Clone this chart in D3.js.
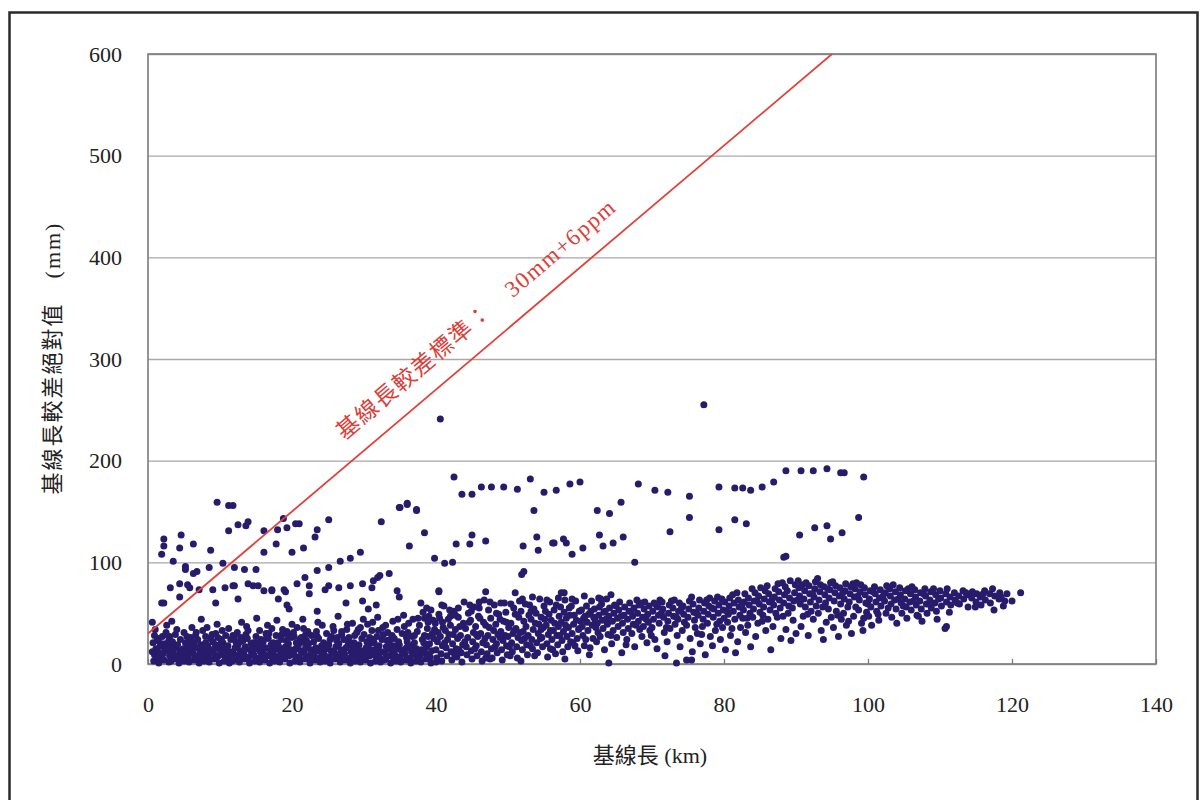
<!DOCTYPE html>
<html>
<head>
<meta charset="utf-8">
<script src="https://cdn.jsdelivr.net/npm/d3@7"></script>
<style>
  body { margin: 0; background: #fff; }
  text { font-family: "Liberation Serif", "Times New Roman", "Noto Sans CJK TC", serif; fill: #222; }
</style>
</head>
<body>
<div id="graph"></div>
<script>
//Sets the dimensions of the picture and the plot area.
let w = 1200;
let h = 800;
let plotLeft = 148, plotRight = 1156, plotTop = 54, plotBottom = 664;

//Axis ticks.
const xTicks = [0, 20, 40, 60, 80, 100, 120, 140];
const yTicks = [0, 100, 200, 300, 400, 500, 600];

//Criterion line: 30mm + 6ppm, drawn from 0 km until it leaves the chart.
const limitBase = 30;
const limitPpm = 6;
const limitX = [0, 95];

//Points [baseline km, |difference| mm] in 10 km strips.
const strip0 = [[0.8,3],[0.9,9],[1.1,15],[0.7,21],[1.0,34],[1.5,1],[1.6,6],[1.4,12],[1.7,18],[1.5,25],
  [2.2,4],[2.1,10],[2.3,14],[2.4,20],[2.0,27],[2.6,38],[2.9,2],[3.0,8],[2.8,13],[3.1,17],[2.9,23],
  [3.6,5],[3.5,11],[3.7,16],[3.4,22],[3.8,29],[3.3,42],[4.3,1],[4.2,7],[4.4,13],[4.1,19],[4.5,24],
  [5.0,3],[5.1,9],[4.9,15],[5.2,21],[5.0,31],[5.7,2],[5.6,6],[5.8,12],[5.5,18],[5.9,26],[6.1,36],
  [6.4,4],[6.3,10],[6.5,16],[6.2,22],[6.6,28],[7.1,1],[7.0,8],[7.2,13],[7.3,19],[6.9,24],[7.4,44],
  [7.8,3],[7.7,9],[7.9,15],[8.0,21],[7.6,33],[8.5,2],[8.4,7],[8.6,12],[8.3,18],[8.7,25],
  [9.2,5],[9.1,11],[9.3,16],[9.0,22],[9.4,30],[9.6,39],[9.9,1],[9.8,8],[10.0,14],[10.1,20],[9.7,26]];
const strip10 = [[10.6,3],[10.5,9],[10.7,15],[10.4,21],[10.8,28],[11.3,1],[11.2,6],[11.4,12],[11.1,18],[11.5,24],[11.2,35],
  [12.0,4],[11.9,10],[12.1,16],[12.2,22],[12.4,31],[12.7,2],[12.6,8],[12.8,13],[12.5,19],[12.9,26],[13.0,41],
  [13.4,5],[13.3,11],[13.5,17],[13.2,23],[13.6,29],[14.1,1],[14.0,7],[14.2,14],[14.3,20],[13.9,33],
  [14.8,3],[14.7,9],[14.9,15],[14.6,21],[15.0,27],[15.1,45],[15.5,2],[15.4,6],[15.6,12],[15.3,18],[15.7,24],
  [16.2,4],[16.1,10],[16.3,16],[16.0,22],[16.4,30],[16.6,38],[16.9,1],[16.8,8],[17.0,13],[17.1,19],[16.7,25],
  [17.6,3],[17.5,9],[17.7,15],[17.4,21],[17.8,28],[17.9,43],[18.3,2],[18.2,7],[18.4,12],[18.1,18],[18.5,24],[18.7,34],
  [19.0,5],[18.9,11],[19.1,17],[19.2,23],[19.4,29],[19.7,1],[19.6,8],[19.8,14],[19.5,20],[19.9,26],[20.0,39]];
const strip20 = [[20.4,3],[20.3,9],[20.5,15],[20.6,21],[20.2,31],[21.1,2],[21.0,7],[21.2,13],[20.9,19],[21.3,26],[21.5,44],
  [21.8,5],[21.7,11],[21.9,17],[22.0,23],[21.6,35],[22.5,1],[22.4,8],[22.6,14],[22.3,20],[22.7,28],
  [23.2,4],[23.1,10],[23.3,16],[23.0,22],[23.4,32],[23.6,41],[23.9,2],[23.8,6],[24.0,12],[24.1,18],[23.7,25],
  [24.6,3],[24.5,9],[24.7,15],[24.4,21],[24.8,30],[25.3,1],[25.2,7],[25.4,13],[25.1,19],[25.5,27],[25.7,37],
  [26.0,5],[25.9,11],[26.1,17],[26.2,23],[26.4,47],[26.7,2],[26.6,8],[26.8,14],[26.5,20],[26.9,29],
  [27.4,4],[27.3,10],[27.5,16],[27.2,24],[27.6,34],[28.1,1],[28.0,6],[28.2,12],[28.3,18],[27.9,26],[28.4,40],
  [28.8,3],[28.7,9],[28.9,15],[28.6,21],[29.0,31],[29.5,2],[29.4,7],[29.6,13],[29.3,19],[29.7,25],[29.9,44]];
const strip30 = [[30.2,4],[30.1,10],[30.3,16],[30.4,22],[30.0,29],[30.5,39],[30.9,1],[30.8,8],[31.0,14],[30.7,20],[31.1,33],
  [31.6,3],[31.5,9],[31.7,15],[31.4,21],[31.8,27],[31.9,46],[32.3,2],[32.2,6],[32.4,12],[32.1,18],[32.5,24],[32.6,36],
  [33.0,5],[32.9,11],[33.1,17],[33.2,23],[33.3,31],[33.7,1],[33.6,8],[33.8,14],[33.5,20],[33.9,28],[34.0,42],
  [34.4,3],[34.3,9],[34.5,15],[34.2,25],[34.6,34],[35.1,2],[35.0,7],[35.2,13],[34.9,19],[35.3,30],[35.5,48],
  [35.8,4],[35.7,10],[35.9,16],[36.0,22],[35.6,37],[36.5,1],[36.4,6],[36.6,12],[36.3,18],[36.7,27],[36.8,44],
  [37.2,3],[37.1,9],[37.3,15],[37.0,21],[37.4,32],[37.9,2],[37.8,8],[38.0,14],[38.1,24],[37.7,38],[38.2,51],
  [38.6,5],[38.5,11],[38.7,17],[38.4,28],[38.8,35],[39.3,1],[39.2,7],[39.4,13],[39.1,20],[39.5,30],[39.6,43]];
const strip40 = [[40.1,6],[40.0,14],[40.2,22],[40.3,31],[39.9,40],[40.4,49],[40.8,3],[40.7,10],[40.9,18],[40.6,27],[41.0,36],[41.1,57],
  [41.5,8],[41.4,16],[41.6,24],[41.3,33],[41.7,44],[42.2,4],[42.1,12],[42.3,20],[42.4,29],[42.0,38],[42.5,52],
  [42.9,7],[42.8,15],[43.0,25],[42.7,34],[43.1,46],[43.6,2],[43.5,11],[43.7,19],[43.4,28],[43.8,40],[43.9,61],
  [44.3,9],[44.2,17],[44.4,26],[44.1,35],[44.5,50],[45.0,5],[44.9,13],[45.1,22],[45.2,31],[44.8,43],[45.3,56],
  [45.7,8],[45.6,18],[45.8,27],[45.5,37],[45.9,47],[46.4,3],[46.3,12],[46.5,21],[46.2,30],[46.6,41],[46.7,63],
  [47.1,10],[47.0,19],[47.2,28],[46.9,38],[47.3,53],[47.8,6],[47.7,15],[47.9,24],[48.0,33],[47.6,45],[48.1,58],
  [48.5,11],[48.4,20],[48.6,29],[48.3,39],[48.7,49],[49.2,4],[49.1,14],[49.3,23],[49.0,32],[49.4,42],[49.5,60],
  [49.9,9],[49.8,18],[50.0,27],[50.1,36],[49.7,51]];
const strip50 = [[50.6,12],[50.5,21],[50.7,30],[50.4,40],[50.8,55],[51.3,6],[51.2,17],[51.4,26],[51.1,35],[51.5,46],[51.6,62],
  [52.0,14],[51.9,23],[52.1,32],[52.2,42],[51.8,52],[52.7,9],[52.6,19],[52.8,28],[52.5,37],[52.9,48],[53.0,58],
  [53.4,15],[53.3,24],[53.5,34],[53.2,44],[53.6,54],[54.1,11],[54.0,21],[54.2,30],[54.3,39],[53.9,50],[54.4,64],
  [54.8,17],[54.7,26],[54.9,36],[54.6,46],[55.0,57],[55.5,7],[55.4,20],[55.6,29],[55.3,38],[55.7,49],[55.8,61],
  [56.2,14],[56.1,24],[56.3,33],[56.0,43],[56.4,53],[56.9,19],[56.8,28],[57.0,37],[57.1,47],[56.7,58],
  [57.6,12],[57.5,23],[57.7,32],[57.4,41],[57.8,51],[57.9,63],[58.3,17],[58.2,27],[58.4,36],[58.1,45],[58.5,55],
  [59.0,21],[58.9,30],[59.1,39],[59.2,48],[58.8,57],[59.7,13],[59.6,25],[59.8,34],[59.5,43],[59.9,52]];
const strip60 = [[60.4,28],[60.3,37],[60.5,45],[60.2,53],[60.6,18],[61.1,33],[61.0,41],[61.2,49],[60.9,57],[61.3,9],
  [61.8,25],[61.7,38],[61.9,46],[62.0,54],[61.6,62],[62.5,31],[62.4,40],[62.6,48],[62.3,22],[62.7,56],
  [63.2,35],[63.1,43],[63.3,51],[63.0,59],[63.4,14],[63.9,29],[63.8,39],[64.0,47],[64.1,55],[63.7,64],[64.0,1],
  [64.6,33],[64.5,42],[64.7,50],[64.4,20],[64.8,58],[65.3,37],[65.2,45],[65.4,53],[65.1,26],[65.5,61],
  [66.0,31],[65.9,40],[66.1,48],[66.2,56],[65.8,11],[66.7,35],[66.6,44],[66.8,52],[66.5,24],[66.9,60],
  [67.4,39],[67.3,47],[67.5,55],[67.2,30],[67.6,17],[68.1,42],[68.0,50],[68.2,58],[68.3,34],[67.9,63],
  [68.8,37],[68.7,46],[68.9,54],[68.6,27],[69.0,61],[69.5,41],[69.4,49],[69.6,57],[69.3,21],[69.7,33]];
const strip70 = [[70.2,44],[70.1,52],[70.3,60],[70.0,36],[70.4,24],[70.9,48],[70.8,56],[71.0,40],[71.1,63],[70.7,15],
  [71.6,46],[71.5,54],[71.7,31],[71.4,61],[71.8,8],[72.3,50],[72.2,42],[72.4,58],[72.1,22],[72.5,35],
  [73.0,47],[72.9,55],[73.1,63],[73.2,39],[73.4,1],[73.7,52],[73.6,44],[73.8,60],[73.5,28],[73.9,17],
  [74.4,49],[74.3,57],[74.5,41],[74.2,33],[74.8,4],[75.1,54],[75.0,46],[75.2,62],[75.5,4],[75.3,25],
  [75.8,51],[75.7,59],[75.9,43],[75.6,12],[76.0,36],[76.5,55],[76.4,48],[76.6,63],[76.3,30],[76.7,20],
  [77.2,52],[77.1,44],[77.3,60],[77.0,37],[77.4,9],[77.9,57],[77.8,49],[78.0,65],[78.1,27],[77.7,40],
  [78.6,54],[78.5,46],[78.7,62],[78.4,18],[78.8,33],[79.3,58],[79.2,50],[79.4,42],[79.1,66],[79.5,24],
  [79.9,53],[80.0,45],[80.1,61],[79.8,36],[80.2,14]];
const strip80 = [[80.7,57],[80.6,49],[80.8,65],[80.5,41],[80.9,28],[81.4,60],[81.3,52],[81.5,44],[81.2,68],[81.6,11],
  [82.1,56],[82.0,63],[82.2,48],[82.3,36],[81.9,22],[82.8,61],[82.7,53],[82.9,69],[82.6,45],[83.0,31],
  [83.5,58],[83.4,65],[83.6,50],[83.3,38],[83.7,17],[84.2,62],[84.1,54],[84.3,70],[84.0,46],[84.4,27],
  [84.9,59],[84.8,67],[85.0,51],[85.1,75],[84.7,40],[85.6,64],[85.5,56],[85.7,72],[85.4,48],[85.8,33],
  [86.3,61],[86.2,69],[86.4,53],[86.1,44],[86.5,14],[87.0,66],[86.9,58],[87.1,74],[87.2,50],[86.8,37],
  [87.7,63],[87.6,71],[87.8,55],[87.5,79],[87.9,25],[88.4,68],[88.3,60],[88.5,76],[88.2,47],[88.6,34],
  [89.1,65],[89.0,57],[89.2,82],[88.9,50],[89.3,23],[89.8,70],[89.7,62],[89.9,78],[89.6,43],[90.0,30]];
const strip90 = [[90.5,67],[90.4,75],[90.6,59],[90.3,82],[90.7,37],[91.2,72],[91.1,64],[91.3,56],[91.0,47],[91.4,80],
  [91.9,69],[91.8,77],[92.0,61],[92.1,52],[91.7,28],[92.6,74],[92.5,66],[92.7,81],[92.4,44],[92.8,57],
  [93.3,71],[93.2,63],[93.4,78],[93.1,50],[93.5,33],[94.0,68],[93.9,76],[94.1,60],[94.2,41],[93.8,24],
  [94.7,73],[94.6,65],[94.8,80],[94.5,54],[94.9,46],[95.4,70],[95.3,62],[95.5,77],[95.2,36],[95.6,52],
  [96.1,75],[96.0,67],[96.2,59],[96.3,44],[95.9,27],[96.8,72],[96.7,64],[96.9,79],[96.6,50],[97.0,38],
  [97.5,69],[97.4,61],[97.6,76],[97.3,42],[97.7,30],[98.2,74],[98.1,66],[98.3,56],[98.0,47],[98.4,80],
  [98.9,71],[98.8,63],[99.0,78],[98.7,53],[99.1,40],[99.6,68],[99.5,75],[99.7,60],[99.4,45],[99.8,51]];
const strip100 = [[100.3,72],[100.2,64],[100.4,56],[100.1,47],[100.5,38],[101.0,69],[100.9,76],[101.1,61],[101.2,52],
  [101.7,73],[101.6,65],[101.8,57],[101.5,43],[102.4,70],[102.3,62],[102.5,50],[102.6,77],
  [103.1,67],[103.0,74],[103.2,59],[103.3,46],[103.8,71],[103.7,63],[103.9,54],[104.0,40],
  [104.5,68],[104.4,75],[104.6,60],[104.7,50],[105.2,72],[105.1,64],[105.3,56],[105.4,45],
  [105.9,69],[105.8,61],[106.0,53],[106.1,76],[106.6,66],[106.5,73],[106.7,58],[106.8,48],
  [107.3,70],[107.2,62],[107.4,54],[107.5,42],[108.0,67],[107.9,74],[108.1,59],[108.2,50],
  [108.7,71],[108.6,63],[108.8,55],[109.4,68],[109.3,60],[109.5,52],[109.6,44]];
const strip110 = [[110.1,65],[110.0,72],[110.2,57],[110.7,35],[110.9,37],[110.8,69],[110.9,61],[111.4,66],[111.5,58],[111.3,51],
  [112.0,70],[112.1,63],[112.6,67],[112.7,59],[113.2,72],[113.3,64],[113.8,68],[113.9,56],
  [114.4,65],[114.5,71],[115.0,61],[115.1,69],[115.6,66],[115.7,58],[116.3,63],[116.2,72],
  [116.9,69],[117.0,60],[117.6,67],[117.5,53],[118.2,64],[118.3,70],[118.8,57],[119.0,62],[121.2,70]];

//Extra points filling the gaps of the dense band.
const fillNear = [[1.2,7],[2.6,16],[3.2,3],[4.7,10],[5.4,27],[6.0,14],[6.8,5],[7.5,17],[8.1,11],[8.9,29],[9.5,6],
  [10.2,24],[10.9,12],[11.7,3],[12.3,18],[13.1,8],[13.8,25],[14.4,11],[15.2,4],[15.9,16],[16.5,27],[17.3,6],
  [18.0,21],[18.8,10],[19.3,32],[20.1,13],[20.8,4],[21.4,22],[22.1,16],[22.9,9],[23.5,27],[24.3,5],[24.9,18],
  [25.6,11],[26.3,26],[27.0,7],[27.8,19],[28.5,13],[29.2,34],[29.8,5],[30.5,17],[31.3,24],[32.0,10],[32.7,29],
  [33.4,15],[34.1,6],[34.8,22],[35.4,11],[36.1,31],[36.9,16],[37.6,5],[38.3,21],[39.0,9],[39.7,25],
  [0.9,28],[2.5,31],[4.0,34],[5.3,12],[6.7,31],[8.2,36],[9.0,14],[10.3,33],[11.8,28],[13.7,37],[15.5,33],
  [17.2,35],[18.6,29],[20.7,36],[22.2,32],[24.2,38],[25.8,33],[27.7,39],[29.5,36],[31.2,41],[33.0,38],[34.7,44],
  [36.2,40],[37.5,45],[39.0,47]];
const fillLow = [[0.6,12],[1.9,20],[3.9,8],[5.6,22],[7.7,4],[9.4,19],[11.0,9],[12.8,22],[14.6,14],[16.0,5],[17.7,19],
  [19.4,11],[21.1,24],[22.7,6],[24.5,16],[26.2,9],[27.9,22],[29.0,12],[30.8,26],[32.8,4],[34.1,18],[35.9,26],
  [37.3,11],[38.9,27],[1.3,23],[3.0,27],[4.6,5],[6.4,19],[8.0,27],[10.6,17],[12.0,27],[13.4,14],[15.0,21],
  [16.8,30],[18.4,15],[20.3,27],[21.9,29],[23.7,13],[25.3,24],[26.9,32],[28.7,28],[30.3,12],[32.0,33],[33.6,24],
  [35.6,14],[37.0,28],[38.6,19],[39.8,34]];
const fillMid = [[38.4,45],[39.3,53],[40.0,2],[40.9,41],[41.8,29],[42.7,48],[43.2,14],[44.6,41],[45.6,29],[46.0,55],
  [46.9,6],[47.4,36],[48.4,50],[48.9,26],[49.8,41],[50.2,17],[50.9,33],[51.8,3],[52.3,25],[53.2,52],[53.7,8],
  [54.6,34],[55.1,44],[55.9,15],[56.5,40],[57.2,28],[57.9,5],[58.6,48],[59.3,18],[59.9,35],[60.7,47],[61.4,16],
  [62.1,43],[62.8,27],[63.5,52],[38.9,41],[40.8,58],[42.0,47],[43.1,55],[44.9,52],[46.0,61],[47.5,5],[49.0,60],
  [50.4,59],[52.0,64],[53.4,66],[55.4,63],[57.0,65],[58.9,64],[60.6,67],[62.6,65],[64.3,68]];
const fillFar = [[40.5,45],[41.2,21],[41.9,53],[42.6,9],[43.3,37],[44.0,22],[44.7,58],[45.4,15],[46.1,45],[46.8,25],
  [47.5,61],[48.2,17],[48.9,44],[49.6,28],[50.3,8],[51.0,49],[51.7,31],[52.4,59],[53.1,18],[53.8,40],[54.5,25],
  [55.2,52],[55.9,33],[56.6,10],[57.3,56],[58.0,38],[58.7,22],[59.4,62],[60.1,42],[60.8,24],[61.5,52],[62.2,36],
  [62.9,64],[63.6,44],[64.3,28],[65.0,57],[65.7,47],[66.4,19],[67.1,52],[67.8,38],[68.5,60],[69.2,44],[69.9,28],
  [70.6,58],[71.3,50],[72.0,36],[72.7,62],[73.4,46],[74.1,55],[74.8,38],[75.5,66],[76.2,50],[76.9,29],[77.6,63],
  [78.3,55],[79.0,39],[79.7,64],[80.4,52],[81.1,35],[81.8,70],[82.5,58],[83.2,45],[83.9,74],[84.6,62],[85.3,42],
  [86.0,77],[86.7,64],[87.4,46],[88.1,80],[88.8,72],[89.5,55],[90.2,63],[90.9,78],[91.6,49],[92.3,69],[93.0,84],
  [93.7,56],[94.4,74],[95.1,81],[95.8,48],[96.5,70],[97.2,56],[97.9,79],[98.6,67],[99.3,33],[100.0,59],[100.7,71],
  [101.4,49],[102.1,67],[102.8,55],[103.5,78],[104.2,64],[104.9,57],[105.6,74],[106.3,62],[107.0,47],[107.7,69],
  [108.4,59],[109.1,74],[109.8,64],[111.0,74],[112.4,60],[113.6,70],[114.9,56],[116.0,69],[117.3,74],[118.5,66],
  [119.3,69],[120.0,62]];

//Scattered points well above the main band.
const outliers = [[40.6,241],[77.2,255],
  [42.5,184],[43.6,167],[45.0,167],[46.3,174],[47.7,174],[49.4,174],[51.3,172],[53.1,182],[55.0,169],[56.7,171],
  [58.6,177],[60.0,179],[68.1,177],[70.4,171],[72.2,169],[75.2,165],[75.2,144],[72.5,130],[65.7,159],[64.1,148],
  [62.4,151],[66.0,125],[64.6,119],[63.2,116],[62.7,127],[60.4,114],[58.9,108],[58.1,119],[57.7,123],[56.4,119],
  [56.2,119],[54.2,112],[54.0,125],[52.1,116],[53.6,151],[46.9,121],[45.0,127],[44.7,118],[42.8,118],[38.4,129],
  [36.3,116],[37.3,151],[36.0,157],[35.0,154],[39.8,104],[41.2,99],[42.3,100],[67.6,100],[51.9,88],[52.2,91],
  [40.4,71],[46.9,71],[51.0,70],[57.4,70],[57.8,70],
  [88.6,190],[90.7,190],[92.4,190],[94.3,192],[96.2,188],[96.7,188],[99.4,184],[86.9,179],[85.3,174],[83.7,171],
  [82.6,173],[81.5,173],[79.3,174],[81.5,142],[83.1,138],[79.3,132],[98.7,144],[92.6,134],[94.3,136],[90.5,127],
  [94.8,123],[96.4,129],[88.3,105],[88.6,106],
  [9.6,159],[11.2,156],[11.8,156],[2.2,123],[2.2,116],[1.9,108],[4.6,127],[4.4,114],[6.3,118],[8.7,112],
  [3.5,101],[5.2,96],[5.2,93],[6.3,89],[6.8,91],[8.5,95],[10.4,99],[11.2,131],[12.5,137],[13.6,136],[13.9,140],
  [16.1,131],[18.0,132],[18.8,143],[19.3,134],[20.5,138],[21.0,138],[16.1,110],[17.8,118],[20.0,110],[21.6,114],
  [23.5,132],[23.2,125],[25.1,142],[12.0,95],[13.4,93],[15.0,93],[3.1,75],[1.9,60],[2.2,60],[4.4,66],[4.4,79],
  [5.5,78],[5.8,75],[7.1,73],[9.0,73],[9.4,60],[10.7,75],[11.8,77],[12.0,77],[12.5,64],[13.9,79],[14.6,77],
  [15.3,77],[16.1,72],[17.2,73],[17.2,72],[18.1,64],[18.9,73],[19.1,71],[19.3,58],[19.6,54],[20.7,79],[21.8,85],
  [22.4,77],[22.4,69],[23.5,52],[23.5,92],[24.6,73],[25.1,77],[25.1,95],[26.5,75],[26.7,101],[28.1,104],
  [29.5,110],[28.1,77],[29.8,79],[31.1,75],[31.3,82],[31.9,85],[32.2,87],[33.5,89],[27.5,60],[29.8,62],
  [30.6,54],[31.7,58],[32.4,140],[34.9,154],[36.0,158],[37.3,152],[34.6,72],[34.9,66],[37.9,60],[38.7,55],
  [40.4,72],[0.6,41],[2.5,29]];

const allPoints = [].concat(strip0, strip10, strip20, strip30, strip40, strip50,
  strip60, strip70, strip80, strip90, strip100, strip110, fillNear, fillLow, fillMid, fillFar, outliers);

//Appends the svg element.
const svg = d3.select('#graph')
  .append("svg")
  .attr("width", w)
  .attr("height", h)
  .attr("viewBox", "0 0 " + w + " " + h);

svg.append("rect")
  .attr("width", w).attr("height", h)
  .attr("fill", "#fff");

let xScale, yScale;

getScales();
drawAxis();
drawChart();

function getScales() {
  xScale = d3.scaleLinear().domain([0, 140]).range([plotLeft, plotRight]);
  yScale = d3.scaleLinear().domain([0, 600]).range([plotBottom, plotTop]);
}

function drawAxis() {
  //Outer frame of the figure.
  svg.append("rect")
    .attr("x", 9.5).attr("y", 12.5)
    .attr("width", 1188).attr("height", 800)
    .attr("fill", "none")
    .attr("stroke", "#2a2a2a")
    .attr("stroke-width", 2.5);

  //Horizontal grid lines.
  const grid = svg.append("g")
    .attr("class", "grid")
    .attr("transform", "translate(" + plotLeft + ",0)")
    .call(d3.axisLeft(yScale).tickValues(yTicks).tickSize(-(plotRight - plotLeft)).tickFormat(""));
  grid.select(".domain").remove();
  grid.selectAll("line").attr("stroke", "#a8a8a8").attr("stroke-width", 1.3);

  //Plot border.
  svg.append("rect")
    .attr("x", plotLeft).attr("y", plotTop)
    .attr("width", plotRight - plotLeft).attr("height", plotBottom - plotTop)
    .attr("fill", "none")
    .attr("stroke", "#7a7a7a")
    .attr("stroke-width", 1.6);

  //x axis with small ticks pointing into the plot.
  const xAxis = svg.append("g")
    .attr("id", "x-axis")
    .attr("transform", "translate(0," + plotBottom + ")")
    .call(d3.axisBottom(xScale).tickValues(xTicks).tickSize(-5));
  xAxis.select(".domain").remove();
  xAxis.selectAll("line").attr("stroke", "#7a7a7a").attr("stroke-width", 1.3);
  xAxis.selectAll("text")
    .attr("y", 48).attr("dy", 0)
    .attr("font-size", 22)
    .attr("fill", "#222");

  //y axis labels only.
  const yAxis = svg.append("g")
    .attr("id", "y-axis")
    .attr("transform", "translate(" + plotLeft + ",0)")
    .call(d3.axisLeft(yScale).tickValues(yTicks).tickSize(0));
  yAxis.select(".domain").remove();
  yAxis.selectAll("text")
    .attr("x", -26).attr("dy", "0.33em")
    .attr("font-size", 22)
    .attr("fill", "#222");

  //Axis titles.
  svg.append("text")
    .attr("x", 650).attr("y", 763)
    .attr("text-anchor", "middle")
    .attr("font-size", 22)
    .text("基線長 (km)");

  svg.append("text")
    .attr("transform", "translate(60,358) rotate(-90)")
    .attr("text-anchor", "middle")
    .attr("font-size", 22)
    .style("letter-spacing", "2px")
    .text("基線長較差絕對值　(mm)");
}

function drawChart() {
  const limit = (x) => limitBase + limitPpm * x;

  svg.append("clipPath").attr("id", "plot-clip")
    .append("rect")
    .attr("x", plotLeft).attr("y", plotTop)
    .attr("width", plotRight - plotLeft).attr("height", plotBottom - plotTop);

  //Dots.
  svg.append("g")
    .selectAll("circle")
    .data(allPoints)
    .enter()
    .append("circle")
    .attr("cx", (d) => xScale(d[0]))
    .attr("cy", (d) => yScale(d[1]))
    .attr("r", 3.5)
    .attr("fill", "#291b6c");

  //Criterion line.
  svg.append("path")
    .datum(limitX)
    .attr("clip-path", "url(#plot-clip)")
    .attr("d", d3.line().x((d) => xScale(d)).y((d) => yScale(limit(d))))
    .attr("fill", "none")
    .attr("stroke", "#e0413a")
    .attr("stroke-width", 1.8);

  //Label running along the line.
  const angle = Math.atan2(yScale(limit(limitX[1])) - yScale(limit(limitX[0])),
                           xScale(limitX[1]) - xScale(limitX[0]));
  const at = 29.1;
  const gap = 20;
  const lx = xScale(at) + gap * Math.sin(angle);
  const ly = yScale(limit(at)) - gap * Math.cos(angle);
  svg.append("text")
    .attr("transform", "translate(" + lx + "," + ly + ") rotate(" + (angle * 180 / Math.PI) + ")")
    .attr("font-size", 23)
    .style("letter-spacing", "1.5px")
    .style("fill", "#d9403a")
    .text("基線長較差標準：　30mm+6ppm");
}
</script>
</body>
</html>
